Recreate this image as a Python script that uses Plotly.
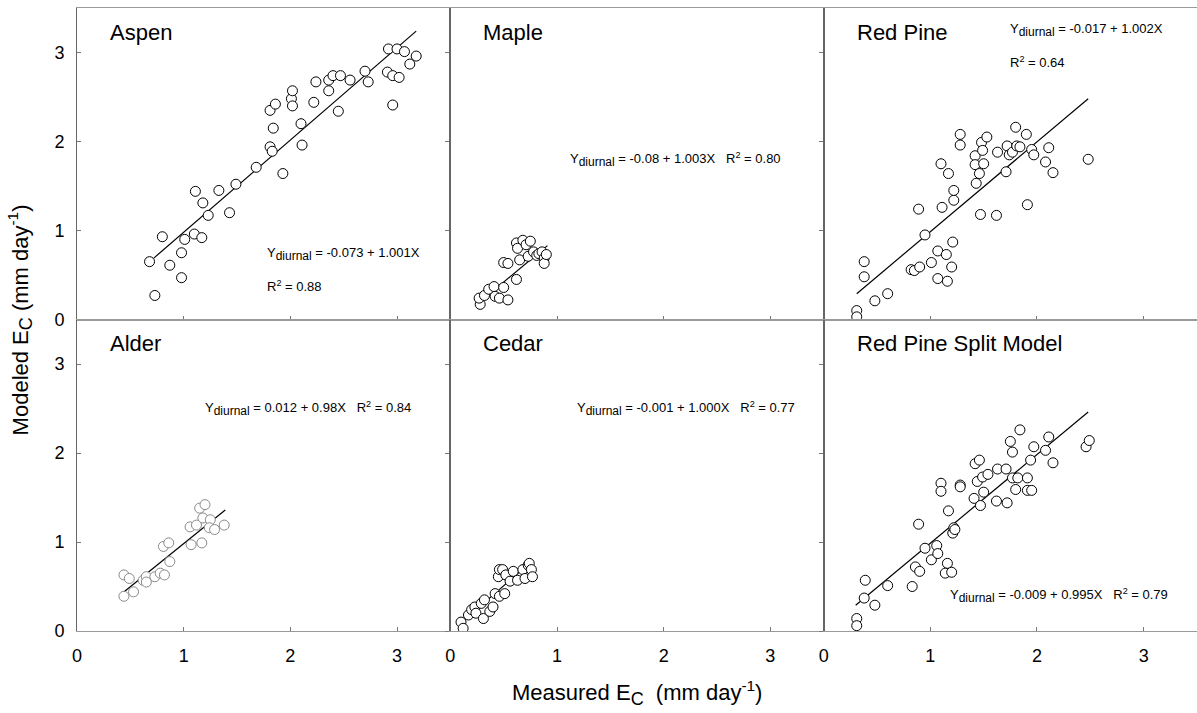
import plotly.graph_objects as go
from plotly.subplots import make_subplots

# ---------------- data ----------------
aspen_x = [0.68, 0.73, 0.80, 0.87, 0.98, 0.98, 1.01, 1.10, 1.11, 1.17, 1.18, 1.23, 1.33, 1.43, 1.49,
           1.68, 1.81, 1.83, 1.84, 1.81, 1.86, 1.93, 2.01, 2.02, 2.02, 2.10, 2.11, 2.22, 2.24, 2.36,
           2.36, 2.40, 2.45, 2.47, 2.56, 2.70, 2.73, 2.91, 2.92, 2.96, 2.96, 3.00, 3.02, 3.07, 3.12, 3.18]
aspen_y = [0.65, 0.27, 0.93, 0.61, 0.75, 0.47, 0.90, 0.96, 1.44, 0.92, 1.31, 1.17, 1.45, 1.20, 1.52,
           1.71, 1.94, 1.89, 2.15, 2.35, 2.42, 1.64, 2.48, 2.57, 2.40, 2.20, 1.96, 2.44, 2.67, 2.69,
           2.57, 2.74, 2.34, 2.74, 2.69, 2.79, 2.67, 2.78, 3.04, 2.41, 2.74, 3.04, 2.72, 3.01, 2.87, 2.96]
aspen_fit_x = [0.72, 3.18]
aspen_fit_y = [0.69, 3.24]

maple_x = [0.28, 0.27, 0.32, 0.36, 0.41, 0.42, 0.46, 0.50, 0.54, 0.62,
           0.50, 0.54, 0.65, 0.73, 0.62, 0.63, 0.68, 0.71, 0.75, 0.78,
           0.81, 0.83, 0.86, 0.88, 0.88, 0.90]
maple_y = [0.17, 0.24, 0.27, 0.34, 0.37, 0.26, 0.24, 0.36, 0.22, 0.45,
           0.64, 0.63, 0.67, 0.71, 0.86, 0.80, 0.89, 0.84, 0.88, 0.76,
           0.72, 0.74, 0.76, 0.69, 0.63, 0.73]
maple_fit_x = [0.27, 0.91]
maple_fit_y = [0.19, 0.83]

redpine_x = [0.31, 0.31, 0.38, 0.38, 0.48, 0.60, 0.82, 0.85, 0.90, 0.89, 0.95, 1.01, 1.07, 1.07,
             1.10, 1.11, 1.15, 1.16, 1.17, 1.20, 1.21, 1.22, 1.22, 1.28, 1.28, 1.42, 1.42, 1.43,
             1.46, 1.47, 1.48, 1.49, 1.50, 1.53, 1.62, 1.63, 1.71, 1.72, 1.74, 1.77, 1.80, 1.81,
             1.84, 1.90, 1.91, 1.95, 1.97, 2.08, 2.11, 2.15, 2.48]
redpine_y = [0.10, 0.03, 0.65, 0.48, 0.21, 0.29, 0.56, 0.55, 0.59, 1.24, 0.95, 0.64, 0.77, 0.46,
             1.75, 1.26, 0.73, 0.43, 1.64, 0.59, 0.87, 1.34, 1.45, 2.08, 1.96, 1.84, 1.74, 1.53,
             1.64, 1.18, 1.99, 1.90, 1.75, 2.05, 1.17, 1.88, 1.66, 1.95, 1.85, 1.88, 2.16, 1.95,
             1.94, 2.08, 1.29, 1.91, 1.85, 1.77, 1.93, 1.65, 1.80]
redpine_fit_x = [0.31, 2.48]
redpine_fit_y = [0.29, 2.48]

alder_x = [0.44, 0.44, 0.49, 0.53, 0.62, 0.65, 0.65, 0.73, 0.78, 0.82, 0.87, 0.81, 0.86,
           1.07, 1.17, 1.06, 1.12, 1.15, 1.20, 1.18, 1.25, 1.24, 1.29, 1.38]
alder_y = [0.39, 0.63, 0.59, 0.44, 0.57, 0.61, 0.55, 0.61, 0.65, 0.63, 0.78, 0.95, 0.99,
           0.97, 0.99, 1.17, 1.19, 1.38, 1.42, 1.27, 1.25, 1.16, 1.14, 1.19]
alder_fit_x = [0.43, 1.39]
alder_fit_y = [0.43, 1.36]

cedar_x = [0.10, 0.12, 0.17, 0.20, 0.23, 0.24, 0.29, 0.31, 0.32, 0.37, 0.40, 0.42, 0.46, 0.51,
           0.45, 0.46, 0.49, 0.52, 0.56, 0.59, 0.63, 0.68, 0.70, 0.73, 0.74, 0.76, 0.77]
cedar_y = [0.10, 0.03, 0.18, 0.24, 0.27, 0.20, 0.31, 0.14, 0.35, 0.22, 0.27, 0.42, 0.39, 0.42,
           0.61, 0.69, 0.69, 0.63, 0.56, 0.67, 0.57, 0.69, 0.59, 0.74, 0.76, 0.69, 0.61]
cedar_fit_x = [0.09, 0.76]
cedar_fit_y = [0.08, 0.78]

split_x = [0.31, 0.31, 0.38, 0.39, 0.48, 0.60, 0.83, 0.86, 0.90, 0.89, 0.95, 1.01, 1.06, 1.07,
           1.10, 1.10, 1.16, 1.14, 1.17, 1.20, 1.21, 1.22, 1.23, 1.28, 1.28, 1.42, 1.46, 1.44,
           1.41, 1.47, 1.49, 1.50, 1.54, 1.63, 1.62, 1.71, 1.72, 1.75, 1.77, 1.77, 1.80, 1.82,
           1.84, 1.91, 1.91, 1.95, 1.94, 1.97, 2.08, 2.11, 2.15, 2.46, 2.49]
split_y = [0.14, 0.06, 0.37, 0.57, 0.29, 0.51, 0.50, 0.72, 0.67, 1.20, 0.93, 0.80, 0.96, 0.87,
           1.66, 1.57, 0.76, 0.65, 1.35, 0.66, 1.10, 1.16, 1.14, 1.64, 1.62, 1.88, 1.92, 1.68,
           1.49, 1.41, 1.73, 1.56, 1.76, 1.82, 1.46, 1.82, 1.44, 2.13, 2.01, 1.72, 1.59, 1.72,
           2.26, 1.72, 1.58, 1.58, 1.92, 2.07, 2.03, 2.18, 1.89, 2.07, 2.14]
split_fit_x = [0.30, 2.48]
split_fit_y = [0.29, 2.46]

panel_titles = ["Aspen", "Maple", "Red Pine", "Alder", "Cedar", "Red Pine Split Model"]
eq_intercepts = ["-0.073", "-0.08", "-0.017", "0.012", "-0.001", "-0.009"]
eq_slopes = ["1.001", "1.003", "1.002", "0.98", "1.000", "0.995"]
eq_r2 = ["0.88", "0.80", "0.64", "0.84", "0.77", "0.79"]
tick_vals = [0, 1, 2, 3]
tick_text = ["0", "1", "2", "3"]

panels = [
    (aspen_x, aspen_y, aspen_fit_x, aspen_fit_y, "black"),
    (maple_x, maple_y, maple_fit_x, maple_fit_y, "black"),
    (redpine_x, redpine_y, redpine_fit_x, redpine_fit_y, "black"),
    (alder_x, alder_y, alder_fit_x, alder_fit_y, "#8a8a8a"),
    (cedar_x, cedar_y, cedar_fit_x, cedar_fit_y, "black"),
    (split_x, split_y, split_fit_x, split_fit_y, "black"),
]

FONT = "Arial, Liberation Sans, Helvetica, sans-serif"

fig = make_subplots(rows=2, cols=3, horizontal_spacing=0, vertical_spacing=0)

for i, (px, py, fx, fy, mcol) in enumerate(panels):
    r, c = i // 3 + 1, i % 3 + 1
    fig.add_trace(go.Scatter(x=fx, y=fy, mode="lines",
                             line=dict(color="black", width=1.2),
                             showlegend=False, hoverinfo="skip"), row=r, col=c)
    fig.add_trace(go.Scatter(x=px, y=py, mode="markers",
                             marker=dict(symbol="circle", size=10, color="white",
                                         line=dict(color=mcol, width=1)),
                             showlegend=False), row=r, col=c)

for i in range(6):
    r, c = i // 3 + 1, i % 3 + 1
    fig.update_xaxes(range=[0, 3.5], tickvals=tick_vals, ticktext=tick_text,
                     showticklabels=(r == 2), ticks="inside", ticklen=4, tickcolor="#777",
                     showline=True, linecolor="#9a9a9a", linewidth=1, mirror=True,
                     showgrid=False, zeroline=False, ticklabelstandoff=8,
                     tickfont=dict(family=FONT, size=18, color="black"), row=r, col=c)
    fig.update_yaxes(range=[0, 3.5], tickvals=tick_vals, ticktext=tick_text,
                     showticklabels=(c == 1), ticks=("inside" if c == 1 else "outside"),
                     ticklen=4, tickcolor="#777",
                     showline=True, linecolor="#666", linewidth=1, mirror=True,
                     showgrid=False, zeroline=False, ticklabelstandoff=8,
                     tickfont=dict(family=FONT, size=18, color="black"), row=r, col=c)

annotations = []
title_pos = [(0.29, 3.23)] * 6
eq_layout = [
    # (x, y of line1, y of line2 or None)
    (1.76, 0.74, 0.38),
    (1.10, 1.80, None),
    (1.73, 3.25, 2.89),
    (1.18, 2.50, None),
    (1.17, 2.50, None),
    (1.17, 0.40, None),
]
SUB = '<sub><span style="font-size:12px">diurnal</span></sub>'
for i in range(6):
    xr = "x" if i == 0 else f"x{i+1}"
    yr = "y" if i == 0 else f"y{i+1}"
    tx, ty = title_pos[i]
    annotations.append(dict(x=tx, y=ty, xref=xr, yref=yr, text=panel_titles[i],
                            showarrow=False, xanchor="left", yanchor="middle",
                            font=dict(family=FONT, size=22, color="black")))
    ex, ey1, ey2 = eq_layout[i]
    line1 = f"Y{SUB} = {eq_intercepts[i]} + {eq_slopes[i]}X"
    line2 = f"R<sup>2</sup> = {eq_r2[i]}"
    if ey2 is None:
        annotations.append(dict(x=ex, y=ey1, xref=xr, yref=yr,
                                text=line1 + "   " + line2,
                                showarrow=False, xanchor="left", yanchor="middle",
                                font=dict(family=FONT, size=13, color="black")))
    else:
        annotations.append(dict(x=ex, y=ey1, xref=xr, yref=yr, text=line1,
                                showarrow=False, xanchor="left", yanchor="middle",
                                font=dict(family=FONT, size=13, color="black")))
        annotations.append(dict(x=ex, y=ey2, xref=xr, yref=yr, text=line2,
                                showarrow=False, xanchor="left", yanchor="middle",
                                font=dict(family=FONT, size=13, color="black")))

annotations.append(dict(x=0.5004, y=-0.0995, xref="paper", yref="paper",
                        text='Measured E<sub><span style="font-size:18px">C</span></sub>  (mm day<sup>-1</sup>)',
                        showarrow=False, xanchor="center", yanchor="middle",
                        font=dict(family=FONT, size=22, color="black")))
annotations.append(dict(x=-0.051, y=0.5, xref="paper", yref="paper", textangle=-90,
                        text='Modeled E<sub><span style="font-size:18px">C</span></sub> (mm day<sup>-1</sup>)',
                        showarrow=False, xanchor="center", yanchor="middle",
                        font=dict(family=FONT, size=22, color="black")))

fig.update_layout(width=1197, height=713, autosize=False,
                  margin=dict(l=77, r=0, t=8, b=82),
                  paper_bgcolor="white", plot_bgcolor="white",
                  annotations=annotations, showlegend=False)

fig.write_html("out.html")
